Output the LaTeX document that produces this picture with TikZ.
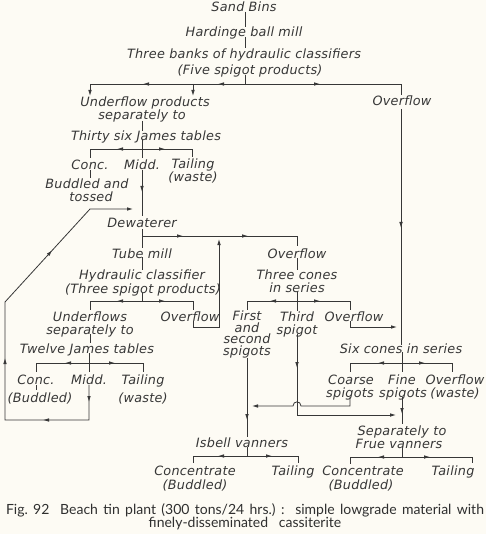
\documentclass[tikz,border=0pt]{standalone}
\usepackage{fontspec}
\usetikzlibrary{arrows.meta,decorations.markings}
\newfontfamily\lab[LetterSpace=2]{DejaVu Sans Oblique}
\newfontfamily\capf[WordSpace=1.5]{Lato}
\definecolor{ink}{RGB}{55,55,55}
\definecolor{paper}{RGB}{253,251,244}
\tikzset{
  tx/.style={inner sep=0pt,anchor=base,text=ink,font=\lab\fontsize{12.8}{15}\selectfont},
  cp/.style={inner sep=0pt,anchor=base,text=ink!85!black,font=\capf\fontsize{14}{16}\selectfont},
  ln/.style={draw=ink,line width=0.8pt},
  tip/.style={-{Latex[length=6pt,width=3.6pt]}},
  arr/.style={postaction={decorate,decoration={markings,mark=at position #1 with {\arrow{Latex[length=6pt,width=3.6pt]}}}}},
}
\begin{document}
\begin{tikzpicture}[x=1pt,y=-1pt]
\path[use as bounding box,fill=paper] (0,0) rectangle (486,534);
% ---- texts (x, baseline) ----
\node[tx] (sand) at (244,12) {Sand Bins};
\node[tx] (hard) at (244,37) {Hardinge ball mill};
\node[tx] (tb1) at (244,59) {Three banks of hydraulic classifiers};
\node[tx] (tb2) at (250,75) {(Five spigot products)};
\node[tx] (uf1) at (145,107) {Underflow products};
\node[tx] (uf2) at (142,120) {separately to};
\node[tx] (ov1) at (402,106) {Overflow};
\node[tx] (thirty) at (146,141) {Thirty six James tables};
\node[tx] (c1) at (90,170) {Conc.};
\node[tx] (m1) at (142,170) {Midd.};
\node[tx] (t1) at (193,169) {Tailing};
\node[tx] (w1) at (193,182) {(waste)};
\node[tx] (bt1) at (87,189) {Buddled and};
\node[tx] (bt2) at (91,202) {tossed};
\node[tx] (dew) at (142,228) {Dewaterer};
\node[tx] (tube) at (142,258) {Tube mill};
\node[tx] (ov2) at (297,258) {Overflow};
\node[tx] (hc1) at (142,279) {Hydraulic classifier};
\node[tx] (hc2) at (143,293) {(Three spigot products)};
\node[tx] (tc1) at (297,279) {Three cones};
\node[tx] (tc2) at (297,292) {in series};
\node[tx] (uf3) at (90,321) {Underflows};
\node[tx] (uf4) at (90,334) {separately to};
\node[tx] (ov3) at (190,321) {Overflow};
\node[tx] (fs1) at (247,320.5) {First};
\node[tx] (fs2) at (247,332) {and};
\node[tx] (fs3) at (247,343.5) {second};
\node[tx] (fs4) at (247,355.5) {spigots};
\node[tx] (ts1) at (297,321) {Third};
\node[tx] (ts2) at (297,334) {spigot};
\node[tx] (ov4) at (354,321) {Overflow};
\node[tx] (twelve) at (87,353) {Twelve James tables};
\node[tx] (six) at (401,353) {Six cones in series};
\node[tx] (c2) at (36,384) {Conc.};
\node[tx] (b2) at (40,402) {(Buddled)};
\node[tx] (m2) at (89,384) {Midd.};
\node[tx] (t2) at (143,384) {Tailing};
\node[tx] (w2) at (143,402) {(waste)};
\node[tx] (co1) at (351,384) {Coarse};
\node[tx] (co2) at (350,397) {spigots};
\node[tx] (fi1) at (402,384) {Fine};
\node[tx] (fi2) at (403,397) {spigots};
\node[tx] (ov5) at (455,384) {Overflow};
\node[tx] (w5) at (455,397) {(waste)};
\node[tx] (sep1) at (402,435) {Separately to};
\node[tx] (sep2) at (399,448) {Frue vanners};
\node[tx] (isb) at (242,447) {Isbell vanners};
\node[tx] (cc1) at (195,475) {Concentrate};
\node[tx] (cb1) at (195,489) {(Buddled)};
\node[tx] (ta1) at (293,475) {Tailing};
\node[tx] (cc2) at (363,475) {Concentrate};
\node[tx] (cb2) at (361,489) {(Buddled)};
\node[tx] (ta2) at (453,475) {Tailing};
% caption
\node[cp] (cap1) at (245,514.5) {Fig.\ 92\ \ Beach tin plant (300 tons/24 hrs.)\ :\ \ simple lowgrade material with};
\node[cp] (cap2) at (245,527.5) {finely-disseminated\ \ cassiterite};
% ---- connectors ----
\draw[ln] (245,12) -- (245,27);
\draw[ln] (245,37) -- (245,48);
\draw[ln] (245,75) -- (245,84);
\draw[ln,arr=27pt,arr=102pt,tip] (245,84) -- (90,84) -- (90,96);
\draw[ln,tip] (193,84) -- (193,96);
\draw[ln,arr=75pt] (245,84) -- (401,84) -- (401,95);
\draw[ln,arr=119pt] (401,109) -- (401,345);
% thirty six James tables
\draw[ln] (142,121) -- (142,131);
\draw[ln] (142,140) -- (142,158);
\draw[ln,arr=25pt] (142,149) -- (90,149) -- (90,158);
\draw[ln,arr=23pt] (142,149) -- (192,149) -- (192,157);
\draw[ln] (90,170) -- (90,178);
\draw[ln,arr=22pt] (142,170) -- (142,216);
% dewaterer / tube mill
\draw[ln] (142,229) -- (142,248);
\draw[ln] (142,257) -- (142,270);
\draw[ln,arr=41pt,arr=106pt] (142,236) -- (297,236) -- (297,246);
\draw[ln] (297,258) -- (297,270);
% three cones
\draw[ln] (297,292) -- (297,311);
\draw[ln,arr=27pt] (297,301) -- (247,301) -- (247,310);
\draw[ln,arr=23pt] (297,301) -- (350,301) -- (350,310);
\draw[ln,tip] (350,321) -- (350,327) -- (397,327);
\draw[ln,arr=34pt,tip] (297,334) -- (297,415) -- (396,415);
\draw[ln,tip] (350,397) -- (350,406) -- (301,406) .. controls (301,400.5) and (293,400.5) .. (293,406) -- (252,406);
\draw[ln,arr=62pt] (247,358) -- (247,437);
\draw[ln] (247,447) -- (247,456);
\draw[ln,arr=29pt] (247,456) -- (193,456) -- (193,463);
\draw[ln,arr=25pt] (247,456) -- (298,456) -- (298,463);
% six cones
\draw[ln] (402,352) -- (402,372);
\draw[ln,arr=24pt] (402,363) -- (350,363) -- (350,372);
\draw[ln,arr=23pt] (402,363) -- (452,363) -- (452,372);
\draw[ln,arr=17pt] (402,397) -- (402,424);
\draw[ln] (402,448) -- (402,457);
\draw[ln,arr=24pt] (402,457) -- (350,457) -- (350,464);
\draw[ln,arr=28pt] (402,457) -- (472,457) -- (472,463);
% hydraulic classifier
\draw[ln] (142,293) -- (142,301);
\draw[ln,arr=25pt] (142,301) -- (90,301) -- (90,310);
\draw[ln,arr=23pt] (142,301) -- (193,301) -- (193,310);
\draw[ln,tip] (193,321) -- (193,327) -- (219,327) -- (219,239);
\draw[ln] (90,334) -- (90,343);
% twelve James tables
\draw[ln] (89,353) -- (89,372);
\draw[ln,arr=24pt] (89,363) -- (36,363) -- (36,372);
\draw[ln,arr=26pt] (89,363) -- (143,363) -- (143,372);
\draw[ln] (36,385) -- (36,390);
\draw[ln,arr=17pt,arr=81pt,arr=181pt,arr=307pt,tip] (89,385) -- (89,420) -- (5,420) -- (5,302) -- (90,209) -- (133,209);
\end{tikzpicture}
\end{document}
